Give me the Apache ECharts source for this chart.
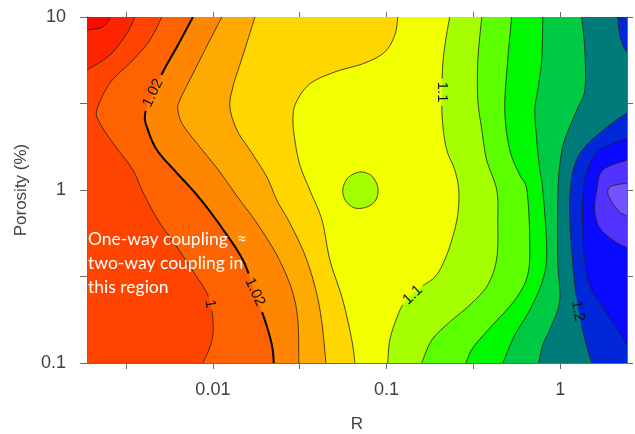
<!DOCTYPE html>
<html>
<head>
<meta charset="utf-8">
<title>Porosity vs R</title>
<script src="https://cdn.jsdelivr.net/npm/echarts@6/dist/echarts.min.js"></script>
<style>
html,body{margin:0;padding:0;background:#fff;}
#chart-wrapper{width:635px;height:434px;}
</style>
</head>
<body>
<div id="chart-wrapper"></div>
<script>
// every point below is [log10(R), log10(porosity %)]
var xMin = -2.725, xMax = 0.385, yMin = -1, yMax = 1;

var xTicks = [-2.5, -2, -1.5, -1, -0.5, 0];
var xLabelAt = [-2, -1, 0];
var xLabels = ['0.01', '0.1', '1'];
var yTicks = [-1, -0.5, 0, 0.5, 1];
var yLabelAt = [-1, 0, 1];
var yLabels = ['0.1', '1', '10'];

// contour lines (level in the name)
var line096 = [[-2.725,0.925],[-2.651,0.936],[-2.610,0.965],[-2.593,1]];
var line098 = [[-2.449,1],[-2.495,0.907],[-2.593,0.780],[-2.725,0.694]];
var line100 = [[-2.294,1],[-2.363,0.867],[-2.461,0.751],[-2.593,0.618],[-2.668,0.462],[-2.651,0.387],[-2.576,0.272],[-2.461,0.116],[-2.409,0],[-2.317,-0.173],[-2.207,-0.329],[-2.092,-0.503],[-2.035,-0.595],[-2.012,-0.665],[-2.000,-0.751],[-2.000,-0.838],[-2.023,-0.925],[-2.058,-1]];
var line102 = [[-2.115,1],[-2.201,0.838],[-2.288,0.682],[-2.363,0.520],[-2.391,0.434],[-2.380,0.364],[-2.322,0.231],[-2.207,0.098],[-2.092,-0.029],[-1.960,-0.202],[-1.827,-0.405],[-1.758,-0.595],[-1.701,-0.751],[-1.660,-0.896],[-1.649,-1]];
var line104 = [[-1.948,1],[-2.017,0.867],[-2.104,0.694],[-2.190,0.520],[-2.201,0.462],[-2.173,0.376],[-2.075,0.249],[-1.960,0.104],[-1.845,-0.058],[-1.747,-0.191],[-1.626,-0.387],[-1.545,-0.578],[-1.511,-0.751],[-1.505,-1]];
var line106 = [[-1.758,1],[-1.799,0.867],[-1.845,0.723],[-1.885,0.595],[-1.902,0.480],[-1.862,0.347],[-1.787,0.231],[-1.689,0.075],[-1.632,-0.058],[-1.557,-0.191],[-1.470,-0.376],[-1.407,-0.578],[-1.372,-0.769],[-1.349,-1]];
var line108 = [[-0.935,1],[-0.952,0.896],[-1.010,0.798],[-1.125,0.734],[-1.298,0.682],[-1.442,0.613],[-1.522,0.503],[-1.539,0.405],[-1.528,0.289],[-1.499,0.145],[-1.442,0],[-1.372,-0.173],[-1.326,-0.405],[-1.252,-0.636],[-1.200,-0.867],[-1.182,-1]];
var spot110 = [[-1.154,0.104],[-1.085,0.081],[-1.050,0.012],[-1.062,-0.058],[-1.113,-0.098],[-1.182,-0.104],[-1.234,-0.064],[-1.252,0],[-1.223,0.069]];
var line110 = [[-0.636,1],[-0.659,0.867],[-0.676,0.723],[-0.682,0.520],[-0.676,0.376],[-0.653,0.231],[-0.607,0.116],[-0.584,0],[-0.590,-0.145],[-0.624,-0.289],[-0.670,-0.416],[-0.722,-0.503],[-0.808,-0.566],[-0.895,-0.647],[-0.941,-0.740],[-0.981,-0.867],[-0.993,-1]];
var line112 = [[-0.451,1],[-0.474,0.751],[-0.474,0.520],[-0.451,0.347],[-0.423,0.173],[-0.365,0],[-0.359,-0.173],[-0.365,-0.393],[-0.417,-0.549],[-0.520,-0.665],[-0.636,-0.763],[-0.739,-0.867],[-0.797,-1]];
var line114 = [[-0.279,1],[-0.302,0.751],[-0.319,0.462],[-0.290,0.231],[-0.233,0.087],[-0.192,0],[-0.175,-0.289],[-0.187,-0.491],[-0.261,-0.636],[-0.405,-0.798],[-0.503,-0.913],[-0.543,-1]];
var line116 = [[-0.100,1],[-0.106,0.751],[-0.129,0.578],[-0.146,0.462],[-0.135,0.289],[-0.117,0.116],[-0.100,0],[-0.077,-0.347],[-0.100,-0.520],[-0.175,-0.694],[-0.261,-0.838],[-0.330,-1]];
var line118 = [[0.124,1],[0.142,0.809],[0.142,0.578],[0.096,0.462],[0.026,0.289],[-0.002,0.145],[-0.014,-0.058],[-0.014,-0.405],[-0.002,-0.636],[-0.048,-0.780],[-0.100,-0.896],[-0.123,-1]];
var line120a = [[0.332,1],[0.343,0.896],[0.366,0.827],[0.385,0.798]];
var line120 = [[0.385,0.445],[0.286,0.376],[0.153,0.260],[0.084,0.145],[0.055,-0.058],[0.067,-0.347],[0.096,-0.636],[0.136,-0.838],[0.182,-1]];
var line122 = [[0.385,0.301],[0.228,0.231],[0.159,0.116],[0.130,-0.058],[0.136,-0.347],[0.170,-0.549],[0.257,-0.694],[0.332,-0.809],[0.385,-0.896]];
var line124 = [[0.385,0.173],[0.245,0.116],[0.211,0],[0.199,-0.116],[0.228,-0.220],[0.303,-0.289],[0.385,-0.335]];
var spot126 = [[0.385,0.040],[0.297,0.023],[0.274,-0.012],[0.297,-0.069],[0.343,-0.127],[0.385,-0.150]];

// contour labels: text, log10(R), log10(porosity)
var contourLabels = [
	['1.02', -2.345, 0.561],
	['1.02', -1.758, -0.590],
	['1', -2.017, -0.659],
	['1.1', -0.682, 0.566],
	['1.1', -0.849, -0.607],
	['1.2', 0.101, -0.699]
];

var noteLines = ['One-way coupling  \u2248', 'two-way coupling in', 'this region'];

// ---- styling ----
var labelRot = [65, -65, -80, -90, 43, -79];

// painted in order, each one on top of the previous
var fills = [
	{pts: line098, close: [[xMin, yMax]], color: '#ff2400'},
	{pts: line096, close: [[xMin, yMax]], color: '#ff0800'},
	{pts: line100, close: [[xMax, yMin], [xMax, yMax]], color: '#ff6200'},
	{pts: line102, close: [[xMax, yMin], [xMax, yMax]], color: '#ff8600'},
	{pts: line104, close: [[xMax, yMin], [xMax, yMax]], color: '#ffaa00'},
	{pts: line106, close: [[xMax, yMin], [xMax, yMax]], color: '#ffd600'},
	{pts: line108, close: [[xMax, yMin], [xMax, yMax]], color: '#f2ff00'},
	{pts: spot110, closed: true, color: '#a6ff00'},
	{pts: line110, close: [[xMax, yMin], [xMax, yMax]], color: '#a6ff00'},
	{pts: line112, close: [[xMax, yMin], [xMax, yMax]], color: '#5cff00'},
	{pts: line114, close: [[xMax, yMin], [xMax, yMax]], color: '#00f800'},
	{pts: line116, close: [[xMax, yMin], [xMax, yMax]], color: '#00c944'},
	{pts: line118, close: [[xMax, yMin], [xMax, yMax]], color: '#007b7b'},
	{pts: line120a, close: [[xMax, yMax]], color: '#0028d8'},
	{pts: line120, close: [[xMax, yMin]], color: '#0028d8'},
	{pts: line122, close: [], color: '#0a0aff'},
	{pts: line124, close: [], color: '#5232ff'},
	{pts: spot126, close: [], color: '#7452ff'}
];

var strokes = [line096, line098, line100, line102, line104, line106, line108, spot110, line110,
	line112, line114, line116, line118, line120a, line120, line122, line124, spot126];

function toPx(api, pts){
	return pts.map(function(p){ return api.coord(p); });
}

// catmull-rom through the read points
function smooth(pts, closed){
	var out = [], n = pts.length, steps = 10;
	var seg = closed ? n : n - 1;
	for(var i = 0; i < seg; i++){
		var p0 = pts[closed ? (i - 1 + n) % n : Math.max(i - 1, 0)];
		var p1 = pts[i];
		var p2 = pts[(i + 1) % n];
		var p3 = pts[closed ? (i + 2) % n : Math.min(i + 2, n - 1)];
		for(var k = 0; k < steps; k++){
			var t = k / steps, t2 = t * t, t3 = t2 * t;
			var q = [];
			for(var d = 0; d < 2; d++){
				q.push(0.5 * (2 * p1[d] + (-p0[d] + p2[d]) * t +
					(2 * p0[d] - 5 * p1[d] + 4 * p2[d] - p3[d]) * t2 +
					(-p0[d] + 3 * p1[d] - 3 * p2[d] + p3[d]) * t3));
			}
			out.push(q);
		}
	}
	if(closed) out.push(out[0]); else out.push(pts[n - 1]);
	return out;
}

function gapRadius(txt){
	return txt.length > 3 ? 19 : (txt.length > 1 ? 13 : 7);
}

function cutGaps(pts, api){
	var holes = contourLabels.map(function(lb){
		var c = api.coord([lb[1], lb[2]]);
		return [c[0], c[1], gapRadius(lb[0])];
	});
	var parts = [], cur = [];
	pts.forEach(function(p){
		var hit = holes.some(function(h){
			var dx = p[0] - h[0], dy = p[1] - h[1];
			return dx * dx + dy * dy < h[2] * h[2];
		});
		if(hit){
			if(cur.length > 1) parts.push(cur);
			cur = [];
		}else{
			cur.push(p);
		}
	});
	if(cur.length > 1) parts.push(cur);
	return parts;
}

var axisColor = '#6b6b6b';
var labelFont = {fontSize: 18, color: '#404040', fontFamily: 'Liberation Sans'};

var myChart = echarts.init(document.getElementById('chart-wrapper'));

var option = {
	animation: false,
	grid: {
		left: 87, right: 8, top: 17, bottom: 71,
		outerBoundsMode: 'none',
		show: true, backgroundColor: '#ff4400', borderWidth: 0
	},
	xAxis: [
		{
			type: 'value', position: 'bottom', min: xMin, max: xMax,
			name: 'R', nameLocation: 'middle', nameGap: 53,
			nameTextStyle: {fontSize: 17, color: '#404040', fontFamily: 'Liberation Sans'},
			axisLine: {show: true, onZero: false, lineStyle: {color: axisColor}},
			axisTick: {show: true, length: 6, customValues: xTicks, lineStyle: {color: axisColor}},
			axisLabel: {
				customValues: xLabelAt, margin: 18,
				fontSize: labelFont.fontSize, color: labelFont.color, fontFamily: labelFont.fontFamily,
				formatter: function(v){
					var i = xLabelAt.indexOf(v);
					return i < 0 ? '' : xLabels[i];
				}
			},
			splitLine: {show: false}
		},
		{
			type: 'value', position: 'top', min: xMin, max: xMax,
			axisLine: {show: true, onZero: false, lineStyle: {color: axisColor}},
			axisTick: {show: true, length: 5, customValues: xTicks, lineStyle: {color: axisColor}},
			axisLabel: {show: false},
			splitLine: {show: false}
		}
	],
	yAxis: [
		{
			type: 'value', position: 'left', min: yMin, max: yMax,
			name: 'Porosity (%)', nameLocation: 'middle', nameGap: 53,
			nameTextStyle: {fontSize: 17, color: '#404040', fontFamily: 'Liberation Sans'},
			axisLine: {show: true, onZero: false, lineStyle: {color: axisColor}},
			axisTick: {show: true, length: 7, customValues: yTicks, lineStyle: {color: axisColor}},
			axisLabel: {
				customValues: yLabelAt, margin: 21,
				fontSize: labelFont.fontSize, color: labelFont.color, fontFamily: labelFont.fontFamily,
				formatter: function(v){
					var i = yLabelAt.indexOf(v);
					return i < 0 ? '' : yLabels[i];
				}
			},
			splitLine: {show: false}
		},
		{
			type: 'value', position: 'right', min: yMin, max: yMax,
			axisLine: {show: true, onZero: false, lineStyle: {color: axisColor}},
			axisTick: {show: true, length: 6, customValues: yTicks, lineStyle: {color: axisColor}},
			axisLabel: {show: false},
			splitLine: {show: false}
		}
	],
	graphic: [{
		type: 'text', left: 88, top: 227, z: 10,
		style: {
			text: noteLines.join('\n'),
			fill: '#ffffff',
			font: '17.5px Lato',
			lineHeight: 24
		}
	}],
	series: [
		{
			name: 'bands', type: 'custom', clip: true, z: 1,
			data: fills.map(function(f, i){ return i; }),
			renderItem: function(params, api){
				var f = fills[params.dataIndex];
				var pts = smooth(toPx(api, f.pts), !!f.closed);
				if(!f.closed) pts = pts.concat(toPx(api, f.close));
				return {type: 'polygon', shape: {points: pts}, style: {fill: f.color}};
			}
		},
		{
			name: 'lines', type: 'custom', clip: true, z: 2,
			data: strokes.map(function(s, i){ return i; }),
			renderItem: function(params, api){
				var s = strokes[params.dataIndex];
				var closed = s === spot110;
				var bold = s === line102;
				var parts = cutGaps(smooth(toPx(api, s), closed), api);
				return {
					type: 'group',
					children: parts.map(function(p){
						return {
							type: 'polyline', shape: {points: p},
							style: {
								fill: null,
								stroke: bold ? '#000' : 'rgba(30,30,30,0.8)',
								lineWidth: bold ? 2 : 1
							}
						};
					})
				};
			}
		},
		{
			name: 'levels', type: 'custom', z: 3,
			data: contourLabels.map(function(l, i){ return i; }),
			renderItem: function(params, api){
				var lb = contourLabels[params.dataIndex];
				var p = api.coord([lb[1], lb[2]]);
				return {
					type: 'text', x: p[0], y: p[1],
					rotation: labelRot[params.dataIndex] * Math.PI / 180,
					style: {
						text: lb[0], fill: '#111',
						font: '15px "Liberation Sans"',
						align: 'center', verticalAlign: 'middle'
					}
				};
			}
		}
	]
};

myChart.setOption(option);
</script>
</body>
</html>
